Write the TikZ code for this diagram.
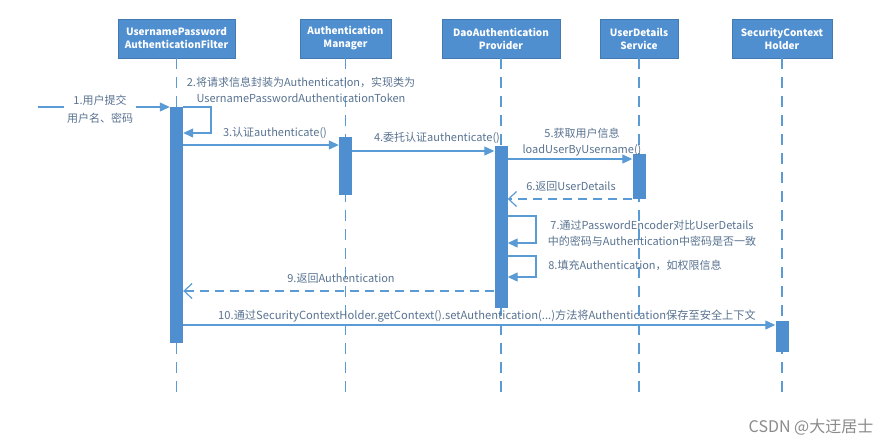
\documentclass[tikz,border=0pt]{standalone}
\usepackage{fontspec}
\setmainfont{Noto Sans CJK SC}
\usetikzlibrary{arrows.meta}
\definecolor{boxblue}{HTML}{4F8FD0}
\definecolor{lineblue}{HTML}{5B9BD5}
\definecolor{lbl}{HTML}{587290}
\definecolor{wm}{HTML}{8A8A8A}
\tikzset{
  hdr/.style={rectangle, fill=boxblue, draw=boxblue!85!black, line width=0.4pt, text=white, font=\fontsize{10}{13}\selectfont\bfseries, align=center, inner sep=0pt},
  actbar/.style={rectangle, fill=boxblue, draw=none, minimum width=13pt, inner sep=0pt},
  lifeline/.style={draw=lineblue, line width=1.2pt, dash pattern=on 11pt off 8pt},
  msg/.style={draw=lineblue, line width=1.2pt, -{Triangle[length=10pt,width=9pt]}},
  ret/.style={draw=lineblue, line width=1.2pt, dash pattern=on 9pt off 6pt, -{Straight Barb[length=8pt,width=15pt,line width=1.2pt]}},
  lab/.style={text=lbl, font=\fontsize{11}{15.5}\selectfont, align=center, inner sep=0pt},
}
\begin{document}
\begin{tikzpicture}[x=1pt,y=-1pt]
\useasboundingbox (0,0) rectangle (896,445);
% headers
\node[hdr, minimum width=117pt, minimum height=39pt] (f) at (176.5,38.5) {UsernamePassword\\AuthenticationFilter};
\node[hdr, minimum width=91pt, minimum height=39pt] (m) at (345.5,38.5) {Authentication\\Manager};
\node[hdr, minimum width=118pt, minimum height=39pt] (p) at (501,38.5) {DaoAuthentication\\Provider};
\node[hdr, minimum width=78pt, minimum height=39pt] (u) at (639,38.5) {UserDetails\\Service};
\node[hdr, minimum width=100pt, minimum height=39pt] (h) at (782,38.5) {SecurityContext\\Holder};
% lifeline ends
\coordinate (fe) at (176.5,398);
\coordinate (me) at (345.5,398);
\coordinate (pe) at (501,398);
\coordinate (ue) at (639,398);
\coordinate (he) at (782,398);
\draw[lifeline] (f.south) -- (fe);
\draw[lifeline] (m.south) -- (me);
\draw[lifeline] (p.south) -- (pe);
\draw[lifeline] (u.south) -- (ue);
\draw[lifeline] (h.south) -- (he);
% activation bars
\node[actbar, minimum height=236pt] (fa) at (176.5,225) {};
\node[actbar, minimum height=58pt] (ma) at (345.5,166) {};
\node[actbar, minimum height=162pt] (pa) at (501,227) {};
\node[actbar, minimum height=45pt] (ua) at (639,176.5) {};
\node[actbar, minimum height=31pt] (ha) at (782,336.5) {};
% message 1
\coordinate (s1) at (38,107);
\draw[msg] (s1) -- (fa.west |- s1);
\node[lab, fill=white, inner sep=3pt, font=\fontsize{11}{18}\selectfont] (l1) at (100,109) {1.用户提交\\用户名、密码};
% message 2 (self)
\coordinate (a2) at (211,107);
\coordinate (b2) at (211,133);
\draw[msg] (fa.east |- a2) -- (a2) -- (b2) -- (fa.east |- b2);
\node[lab, font=\fontsize{11}{16}\selectfont] (l2) at (301,90) {2.将请求信息封装为Authentication，实现类为\\UsernamePasswordAuthenticationToken};
% message 3
\coordinate (y3) at (0,145);
\draw[msg] (fa.east |- y3) -- (ma.west |- y3);
\node[lab] (l3) at (275,133) {3.认证authenticate()};
% message 4
\coordinate (y4) at (0,151);
\draw[msg] (ma.east |- y4) -- (pa.west |- y4);
\node[lab] (l4) at (437,138) {4.委托认证authenticate()};
% message 5
\coordinate (y5) at (0,159);
\draw[msg] (pa.east |- y5) -- (ua.west |- y5);
\node[lab] (l5) at (582,142) {5.获取用户信息\\loadUserByUsername()};
% message 6
\coordinate (y6) at (0,199);
\draw[ret] (ua.west |- y6) -- (pa.east |- y6);
\node[lab] (l6) at (571,186) {6.返回UserDetails};
% message 7 (self)
\coordinate (a7) at (536,216);
\coordinate (b7) at (536,243);
\draw[msg] (pa.east |- a7) -- (a7) -- (b7) -- (pa.east |- b7);
\node[lab] (l7) at (652,233.5) {7.通过PasswordEncoder对比UserDetails\\中的密码与Authentication中密码是否一致};
% message 8 (self)
\coordinate (a8) at (536,256);
\coordinate (b8) at (536,277);
\draw[msg] (pa.east |- a8) -- (a8) -- (b8) -- (pa.east |- b8);
\node[lab] (l8) at (635,265) {8.填充Authentication，如权限信息};
% message 9
\coordinate (y9) at (0,291);
\draw[ret] (pa.west |- y9) -- (fa.east |- y9);
\node[lab] (l9) at (341,278) {9.返回Authentication};
% message 10
\coordinate (y10) at (0,325);
\draw[msg] (fa.east |- y10) -- (ha.west |- y10);
\node[lab, font=\fontsize{11.2}{13}\selectfont] (l10) at (487,316) {10.通过SecurityContextHolder.getContext().setAuthentication(...)方法将Authentication保存至安全上下文};
% watermark
\node[text=wm, font=\fontsize{16}{18}\selectfont, inner sep=0pt] (wmk) at (811,427) {CSDN @大迂居士};
\end{tikzpicture}
\end{document}
